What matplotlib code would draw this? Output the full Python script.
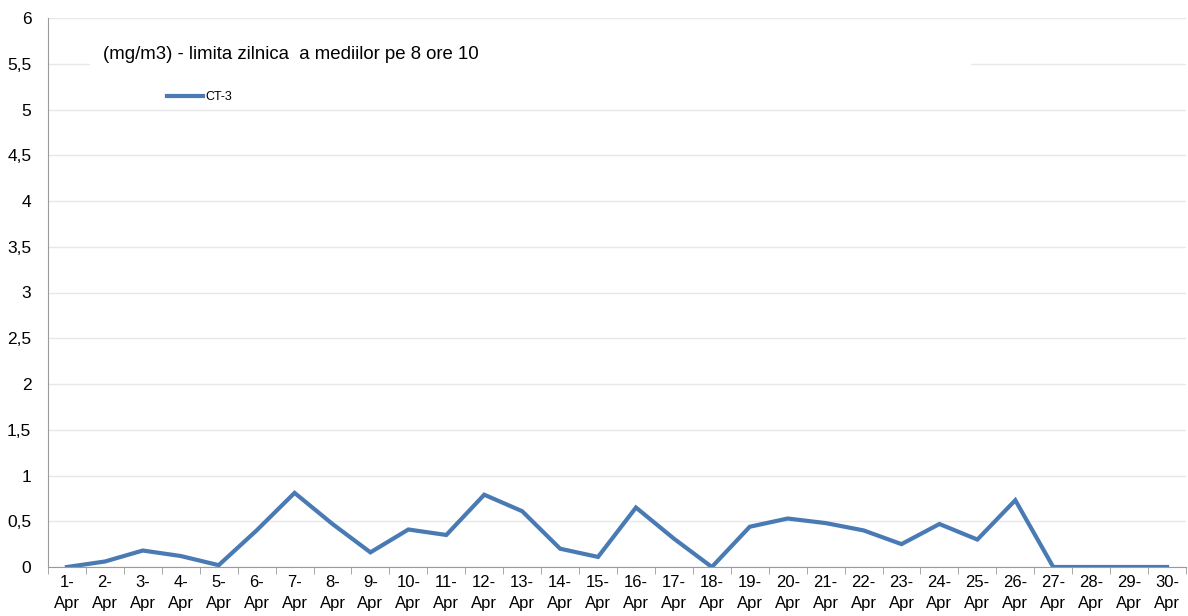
import numpy as np
import matplotlib.pyplot as plt

plt.rcParams['font.family'] = ['Liberation Sans', 'DejaVu Sans']

# date labels and CT-3 values (mg/m3)
zile = [f"{d}-\nApr" for d in range(1, 31)]
ct3 = [0, 0.06, 0.18, 0.12, 0.02, 0.40, 0.81, 0.47, 0.16, 0.41,
       0.35, 0.79, 0.61, 0.20, 0.11, 0.65, 0.31, 0.0, 0.44, 0.53,
       0.48, 0.40, 0.25, 0.47, 0.30, 0.73, 0, 0, 0, 0]
y_ticks = [0, 0.5, 1, 1.5, 2, 2.5, 3, 3.5, 4, 4.5, 5, 5.5, 6]
y_labels = [str(v).replace('.', ',') if v % 1 else str(int(v)) for v in y_ticks]

fig = plt.figure(figsize=(11.88, 6.16), dpi=100)
ax = fig.add_axes([48 / 1188, 49 / 616, 1138 / 1188, 549 / 616])

x = np.arange(len(ct3))
line, = ax.plot(x, ct3, color='#4a7ab4', linewidth=3, solid_joinstyle='miter')

ax.set_xlim(-0.5, len(ct3) - 0.5)
ax.set_ylim(0, 6)
ax.set_yticks(y_ticks)
ax.set_yticklabels(y_labels, fontsize=12.5)
ax.set_xticks(x)
ax.set_xticklabels(zile, fontsize=12, linespacing=1.45)
ax.set_xticks(np.arange(-0.5, len(ct3), 1), minor=True)
ax.tick_params(axis='x', which='major', length=0, pad=6)
ax.tick_params(axis='x', which='minor', length=5, color='#9a9a9a')
ax.tick_params(axis='y', length=0, pad=12)

ax.grid(axis='y', color='#e8e8e8', linewidth=1)
ax.set_axisbelow(True)
for s in ['top', 'right']:
    ax.spines[s].set_visible(False)
ax.spines['left'].set_color('#9a9a9a')
ax.spines['bottom'].set_color('#9a9a9a')

ax.text(0.96, 5.6, '(mg/m3) - limita zilnica  a mediilor pe 8 ore 10', fontsize=13.4,
        va='center', ha='left', zorder=3)
# white patch behind title, as in the original
ax.axhspan(5.35, 5.75, xmin=42 / 1138, xmax=922 / 1138, color='white', zorder=1.5)

ax.legend([line], ['CT-3'], loc='center left', bbox_to_anchor=(0.1046, 0.856),
          frameon=False, fontsize=9, handlelength=2.9, handletextpad=0.2,
          borderpad=0, borderaxespad=0)

fig.savefig('out.png', dpi=100)
